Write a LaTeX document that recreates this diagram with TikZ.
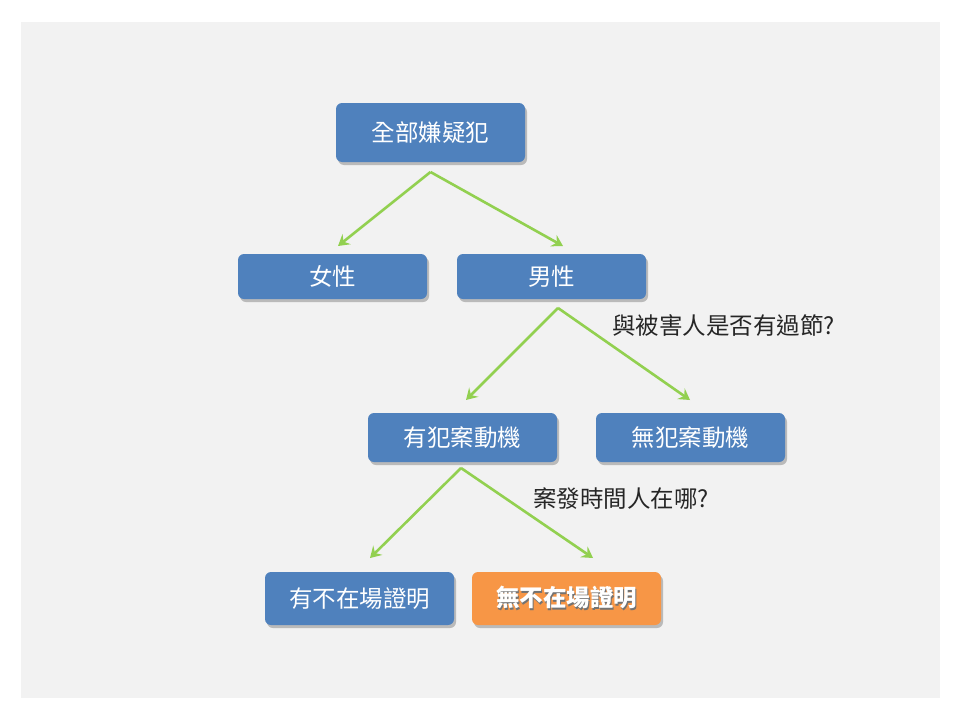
\documentclass[tikz,border=0pt]{standalone}
\usepackage{fontspec}
\setmainfont{Noto Sans CJK TC}
\usetikzlibrary{shadows,arrows.meta}
\definecolor{bgc}{HTML}{F2F2F2}
\definecolor{boxblue}{HTML}{4F81BD}
\definecolor{boxorange}{HTML}{F79646}
\definecolor{arrgreen}{HTML}{92D050}
\tikzset{
  box/.style={rounded corners=6pt, fill=boxblue, text=white, minimum width=189pt,
    inner sep=0pt, font=\fontsize{23.5}{26}\selectfont,
    drop shadow={shadow xshift=2pt, shadow yshift=-3pt, opacity=0.4, fill=black!60}},
  hibox/.style={box, fill=boxorange},
  arr/.style={draw=arrgreen, line width=2.6pt, -{Stealth[length=11pt,width=13pt,inset=4pt]}},
  lbl/.style={inner sep=0pt, text=black!85, font=\fontsize{23.5}{26}\selectfont}
}
\begin{document}
\begin{tikzpicture}[x=1pt,y=1pt]
\useasboundingbox (0,0) rectangle (960,-720);
\fill[white] (0,0) rectangle (960,-720);
\fill[bgc] (21,-22) rectangle (940,-698);

\node[box, minimum height=59pt] (all) at (430.5,-132.5) {全部嫌疑犯};
\node[box, minimum height=45pt] (female) at (332.5,-276.5) {女性};
\node[box, minimum height=45pt] (male) at (551.5,-276.5) {男性};
\node[box, minimum height=49pt] (motive) at (462.5,-437.5) {有犯案動機};
\node[box, minimum height=49pt] (nomotive) at (690.5,-437.5) {無犯案動機};
\node[box, minimum height=53pt] (alibi) at (359.5,-598.5) {有不在場證明};
\node[hibox, minimum height=53pt] (noalibi) at (566.5,-598.5)
  {\bfseries\rlap{\hspace{1.2pt}\raisebox{-1.2pt}{\color{black!55}無不在場證明}}無不在場證明};

\node[lbl, anchor=west] (q1) at (612,-326) {與被害人是否有過節?};
\node[lbl, anchor=west] (q2) at (533,-499) {案發時間人在哪?};

\coordinate (s1) at (430.5,-172);
\coordinate (e1a) at (338,-246);
\coordinate (e1b) at (563,-246);
\coordinate (s2) at (558,-308);
\coordinate (e2a) at (466,-400);
\coordinate (e2b) at (690,-400);
\coordinate (s3) at (461,-468);
\coordinate (e3a) at (370,-558);
\coordinate (e3b) at (593,-558);

\draw[arr] (s1) -- (e1a);
\draw[arr] (s1) -- (e1b);
\draw[arr] (s2) -- (e2a);
\draw[arr] (s2) -- (e2b);
\draw[arr] (s3) -- (e3a);
\draw[arr] (s3) -- (e3b);
\end{tikzpicture}
\end{document}
